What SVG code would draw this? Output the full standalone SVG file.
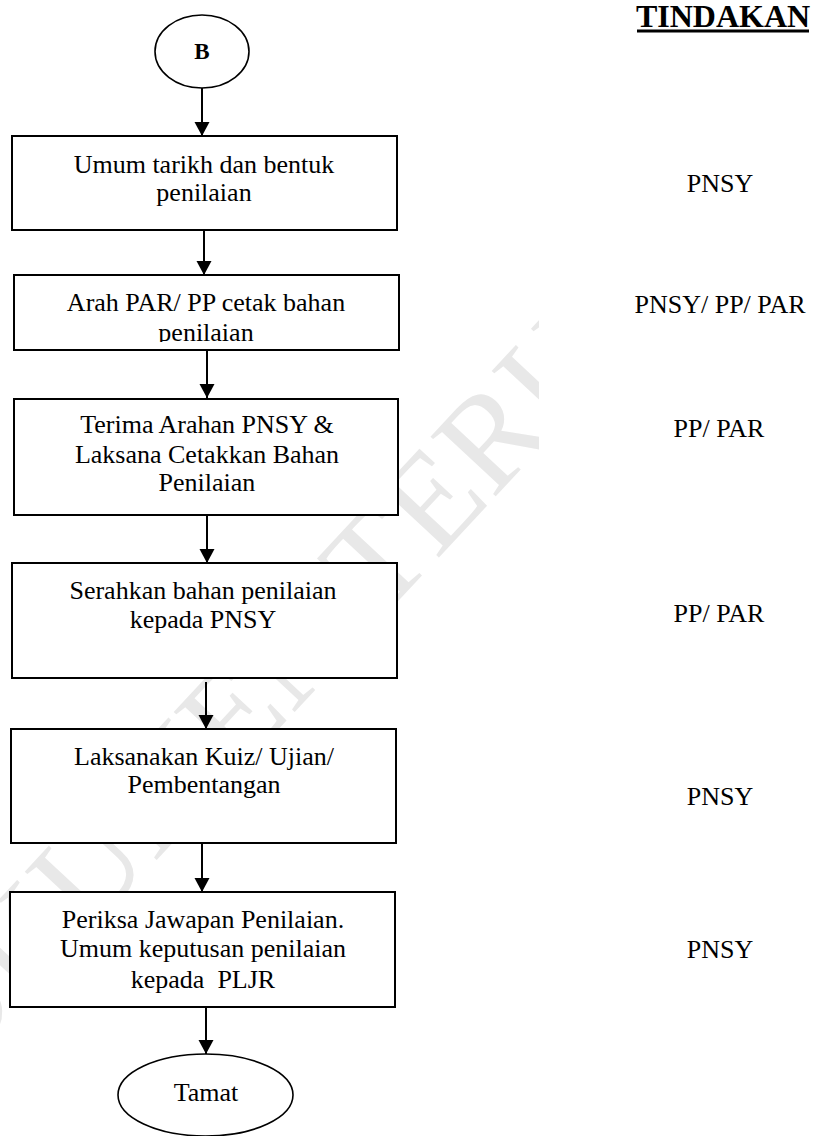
<svg xmlns="http://www.w3.org/2000/svg" width="816" height="1136" viewBox="0 0 816 1136">
<style>
  .t { font-family: "Liberation Serif", "Times New Roman", serif; font-size: 26px; fill: #000; text-anchor: middle; }
  .box { fill: #fff; stroke: #000; stroke-width: 2; }
  .term { fill: #fff; stroke: #000; stroke-width: 1.6; }
  .conn { stroke: #000; stroke-width: 2; fill: none; marker-end: url(#arr); }
  .wm { font-family: "Liberation Serif", "Times New Roman", serif; font-size: 135px; fill: #e8e8e8; }
</style>
<defs>
  <marker id="arr" markerUnits="userSpaceOnUse" markerWidth="16" markerHeight="16" viewBox="0 0 16 16" refX="14" refY="8" orient="auto">
    <path d="M0,0.5 L14,8 L0,15.5 Z" fill="#000"/>
  </marker>
  <clipPath id="wmclip"><rect x="0" y="0" width="539" height="1136"/></clipPath>
  <clipPath id="b2clip"><rect x="14" y="275" width="385" height="67"/></clipPath>
</defs>
<rect width="816" height="1136" fill="#fff"/>
<g id="watermark" clip-path="url(#wmclip)">
  <text class="wm" transform="translate(-112,1148) rotate(-47)" x="0" y="0">DOKUMEN TERKAWAL</text>
</g>
<g id="header">
  <text x="723" y="27" style="font-family:'Liberation Serif','Times New Roman',serif;font-size:32px;font-weight:bold;text-anchor:middle">TINDAKAN</text>
  <rect x="637" y="29.5" width="172" height="3" fill="#000"/>
</g>
<g id="connectors">
  <line class="conn" x1="202" y1="88" x2="202" y2="136"/>
  <line class="conn" x1="204" y1="229" x2="204" y2="275"/>
  <line class="conn" x1="207" y1="350" x2="207" y2="398"/>
  <line class="conn" x1="207" y1="515" x2="207" y2="563"/>
  <line class="conn" x1="206" y1="682" x2="206" y2="729"/>
  <line class="conn" x1="202" y1="843" x2="202" y2="892"/>
  <line class="conn" x1="206" y1="1007" x2="206" y2="1054"/>
</g>
<g id="node-B">
  <ellipse class="term" cx="202" cy="51.5" rx="47" ry="36.5"/>
  <text class="t" x="202" y="59" style="font-weight:bold;font-size:23px">B</text>
</g>
<g id="node-1">
  <rect class="box" x="12" y="136" width="385" height="94"/>
  <text class="t" x="204" y="173">Umum tarikh dan bentuk</text>
  <text class="t" x="204" y="201">penilaian</text>
</g>
<g id="node-2">
  <rect class="box" x="14" y="275" width="385" height="75"/>
  <g clip-path="url(#b2clip)">
    <text class="t" x="206" y="311">Arah PAR/ PP cetak bahan</text>
    <text class="t" x="206" y="341">penilaian</text>
  </g>
</g>
<g id="node-3">
  <rect class="box" x="14" y="399" width="384" height="116"/>
  <text class="t" x="207" y="433">Terima Arahan PNSY &amp;</text>
  <text class="t" x="207" y="463">Laksana Cetakkan Bahan</text>
  <text class="t" x="207" y="491">Penilaian</text>
</g>
<g id="node-4">
  <rect class="box" x="12" y="563" width="385" height="115"/>
  <text class="t" x="203" y="599">Serahkan bahan penilaian</text>
  <text class="t" x="203" y="628">kepada PNSY</text>
</g>
<g id="node-5">
  <rect class="box" x="11" y="729" width="385" height="114"/>
  <text class="t" x="204" y="765">Laksanakan Kuiz/ Ujian/</text>
  <text class="t" x="204" y="793">Pembentangan</text>
</g>
<g id="node-6">
  <rect class="box" x="10" y="892" width="385" height="115"/>
  <text class="t" x="203" y="928">Periksa Jawapan Penilaian.</text>
  <text class="t" x="203" y="957">Umum keputusan penilaian</text>
  <text class="t" x="203" y="988" xml:space="preserve">kepada  PLJR</text>
</g>
<g id="node-end">
  <ellipse class="term" cx="205.5" cy="1095" rx="87.5" ry="41"/>
  <text class="t" x="206" y="1101">Tamat</text>
</g>
<g id="actions">
  <text class="t" x="720" y="192">PNSY</text>
  <text class="t" x="720" y="313">PNSY/ PP/ PAR</text>
  <text class="t" x="719" y="437">PP/ PAR</text>
  <text class="t" x="719" y="622">PP/ PAR</text>
  <text class="t" x="720" y="805">PNSY</text>
  <text class="t" x="720" y="958">PNSY</text>
</g>
</svg>
